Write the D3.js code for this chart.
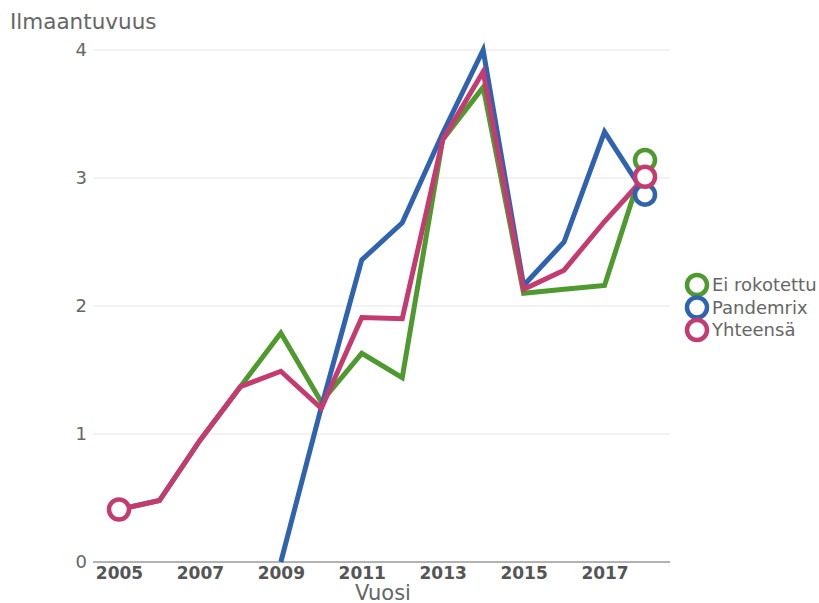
<!doctype html>
<html>
  <head>
    <meta charset="utf-8">
    <title>Ilmaantuvuus</title>
    <script src="https://cdnjs.cloudflare.com/ajax/libs/d3/7.8.5/d3.min.js"></script>
    <style>
      body { margin: 0; background: #fff; font-family: "DejaVu Sans", sans-serif; }
    </style>
  </head>
  <body>
    <div id="chart"></div>
    <script>
      // data
      const years = [2005, 2006, 2007, 2008, 2009, 2010, 2011, 2012, 2013, 2014, 2015, 2016, 2017, 2018];
      const seriesNames = ['Ei rokotettu', 'Pandemrix', 'Yhteensä'];
      const eiRokotettu = [0.41, 0.48, 0.95, 1.37, 1.79, 1.25, 1.63, 1.44, 3.30, 3.71, 2.10, 2.13, 2.16, 3.14];
      const pandemrix = [null, null, null, null, 0, 1.21, 2.36, 2.65, 3.35, 4.0, 2.16, 2.50, 3.36, 2.87];
      const yhteensa = [0.41, 0.48, 0.95, 1.37, 1.49, 1.20, 1.91, 1.90, 3.30, 3.83, 2.13, 2.28, 2.66, 3.01];
      const xTicks = [2005, 2007, 2009, 2011, 2013, 2015, 2017];
      const yTicks = [0, 1, 2, 3, 4];
      const colors = ['#4e9a2e', '#2f63b0', '#c33b70'];

      const svg = d3.select('#chart').append('svg')
        .attr('width', 819)
        .attr('height', 603);

      const x = d3.scaleLinear().domain([2005, 2018]).range([119, 645]);
      const y = d3.scaleLinear().domain([0, 4]).range([562, 50]);

      // grid lines
      svg.append('g')
        .selectAll('line')
        .data(yTicks.slice(1))
        .join('line')
        .attr('x1', 93).attr('x2', 670)
        .attr('y1', d => y(d)).attr('y2', d => y(d))
        .attr('stroke', '#e6e6e6')
        .attr('stroke-width', 1);

      // y axis labels
      const yAxis = svg.append('g')
        .attr('transform', 'translate(93,0)')
        .call(d3.axisLeft(y).tickValues(yTicks).tickSize(0).tickPadding(6).tickFormat(d3.format('d')));
      yAxis.select('.domain').remove();
      yAxis.selectAll('text')
        .attr('fill', '#666')
        .style('font-size', '18px')
        .style('font-family', '"DejaVu Sans", sans-serif');

      // x axis
      const xAxis = svg.append('g')
        .attr('transform', 'translate(0,562)')
        .call(d3.axisBottom(x).tickValues(xTicks).tickSize(0).tickPadding(5).tickFormat(d3.format('d')));
      xAxis.select('.domain').remove();
      xAxis.selectAll('text')
        .attr('fill', '#555')
        .style('font-size', '17px')
        .style('font-weight', 'bold')
        .style('font-family', '"DejaVu Sans", sans-serif');
      svg.append('line')
        .attr('x1', 93).attr('x2', 670)
        .attr('y1', 562).attr('y2', 562)
        .attr('stroke', '#666').attr('stroke-width', 1);

      // axis titles
      svg.append('text')
        .attr('x', 10).attr('y', 29)
        .attr('fill', '#666')
        .style('font-size', '21.5px')
        .text('Ilmaantuvuus');
      svg.append('text')
        .attr('x', 383).attr('y', 600)
        .attr('text-anchor', 'middle')
        .attr('fill', '#666')
        .style('font-size', '21px')
        .text('Vuosi');

      // lines
      const series = [eiRokotettu, pandemrix, yhteensa];
      const line = d3.line()
        .defined(d => d != null)
        .x((d, i) => x(years[i]))
        .y(d => y(d));

      svg.append('g')
        .selectAll('path')
        .data(series)
        .join('path')
        .attr('d', d => line(d))
        .attr('fill', 'none')
        .attr('stroke', (d, i) => colors[i])
        .attr('stroke-width', 5)
        .attr('stroke-linejoin', 'miter');

      // end markers
      const markers = [];
      series.forEach((s, i) => {
        markers.push({ i: i, x: years[years.length - 1], v: s[s.length - 1] });
      });
      markers.push({ i: 2, x: years[0], v: yhteensa[0] });

      svg.append('g')
        .selectAll('circle')
        .data(markers)
        .join('circle')
        .attr('cx', d => x(d.x))
        .attr('cy', d => y(d.v))
        .attr('r', 10)
        .attr('fill', '#fff')
        .attr('stroke', d => colors[d.i])
        .attr('stroke-width', 4.5);

      // legend
      const legend = svg.append('g')
        .selectAll('g')
        .data(seriesNames)
        .join('g')
        .attr('transform', (d, i) => `translate(697,${285 + i * 22.5})`);
      legend.append('circle')
        .attr('r', 10)
        .attr('fill', '#fff')
        .attr('stroke', (d, i) => colors[i])
        .attr('stroke-width', 4.5);
      legend.append('text')
        .attr('x', 15)
        .attr('y', 6)
        .attr('fill', '#666')
        .style('font-size', '18px')
        .text(d => d);
    </script>
  </body>
</html>
